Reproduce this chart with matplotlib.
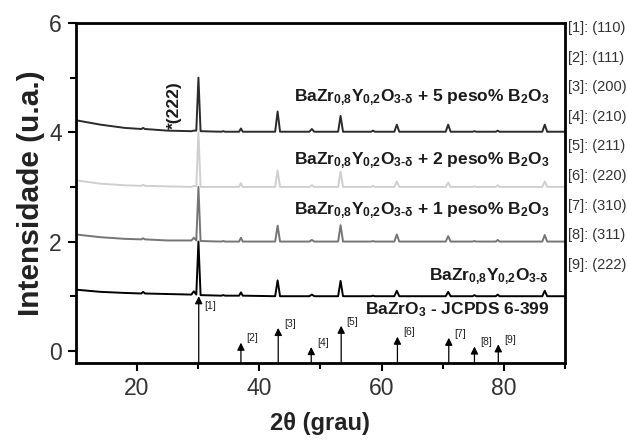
import matplotlib
matplotlib.use('Agg')
import matplotlib.pyplot as plt

plt.rcParams['font.family'] = ['Liberation Sans', 'DejaVu Sans']
plt.rcParams['mathtext.fontset'] = 'custom'
plt.rcParams['mathtext.rm'] = 'Liberation Sans:bold'
plt.rcParams['mathtext.it'] = 'Liberation Sans:bold'
plt.rcParams['mathtext.bf'] = 'Liberation Sans:bold'

# 2theta points shared by all the patterns (peak feet and tips)
two_theta = [10, 14, 18, 20.7, 21.0, 21.3, 25, 28.9, 29.3, 29.7, 30.05, 30.4,
             33.8, 34.1, 34.4, 36.7, 37.0, 37.3, 42.6, 43.0, 43.4, 48.2, 48.6, 49.0,
             52.9, 53.3, 53.7, 58.3, 58.6, 58.9, 62.1, 62.5, 62.9, 70.5, 70.9, 71.3,
             74.9, 75.2, 75.5, 78.7, 79.0, 79.3, 86.3, 86.7, 87.1, 90]

# intensities (already stacked with offsets as in the figure)
y_5pct = [4.22, 4.14, 4.08, 4.06, 4.08, 4.06, 4.03, 4.02, 4.03, 4.03, 5.0, 4.02,
          4.01, 4.02, 4.01, 4.01, 4.07, 4.01, 4.01, 4.38, 4.01, 4.01, 4.06, 4.01,
          4.01, 4.30, 4.01, 4.01, 4.03, 4.01, 4.01, 4.14, 4.01, 4.01, 4.14, 4.01,
          4.01, 4.02, 4.01, 4.01, 4.03, 4.01, 4.01, 4.14, 4.01, 4.01]
y_2pct = [3.12, 3.06, 3.03, 3.02, 3.04, 3.02, 3.01, 3.0, 3.02, 3.01, 4.0, 3.0,
          3.0, 3.0, 3.0, 3.0, 3.07, 3.0, 3.0, 3.30, 3.0, 3.0, 3.03, 3.0,
          3.0, 3.28, 3.0, 3.0, 3.02, 3.0, 3.0, 3.10, 3.0, 3.0, 3.08, 3.0,
          3.0, 3.01, 3.0, 3.0, 3.03, 3.0, 3.0, 3.10, 3.0, 3.0]
y_1pct = [2.13, 2.08, 2.05, 2.04, 2.06, 2.04, 2.02, 2.02, 2.07, 2.02, 3.0, 2.01,
          2.0, 2.01, 2.0, 2.0, 2.07, 2.0, 2.0, 2.29, 2.0, 2.0, 2.03, 2.0,
          2.0, 2.30, 2.0, 2.0, 2.01, 2.0, 2.0, 2.13, 2.0, 2.0, 2.10, 2.0,
          2.0, 2.01, 2.0, 2.0, 2.03, 2.0, 2.0, 2.12, 2.0, 2.0]
y_pure = [1.12, 1.08, 1.06, 1.05, 1.08, 1.05, 1.04, 1.03, 1.09, 1.03, 2.0, 1.02,
          1.01, 1.02, 1.01, 1.01, 1.07, 1.01, 1.0, 1.29, 1.0, 1.0, 1.03, 1.0,
          1.0, 1.28, 1.0, 1.0, 1.01, 1.0, 1.0, 1.10, 1.0, 1.0, 1.08, 1.0,
          1.0, 1.02, 1.0, 1.0, 1.03, 1.0, 1.0, 1.10, 1.0, 1.0]

# JCPDS 6-399 reference lines
ref_pos = [30.1, 37.0, 43.1, 48.5, 53.4, 62.6, 71.0, 75.2, 79.1]
ref_int = [1.0, 0.15, 0.42, 0.07, 0.46, 0.26, 0.24, 0.08, 0.12]
ref_hkl = ['(110)', '(111)', '(200)', '(210)', '(211)', '(220)', '(310)', '(311)', '(222)']

ymin = -0.22

fig = plt.figure(figsize=(6.27, 4.42), dpi=100)
ax = fig.add_axes([0.121, 0.179, 0.780, 0.769])

ax.plot(two_theta, y_pure, color='black', lw=1.4)
ax.plot(two_theta, y_1pct, color='#757575', lw=1.4)
ax.plot(two_theta, y_2pct, color='#cfcfcf', lw=1.4)
ax.plot(two_theta, y_5pct, color='#2b2b2b', lw=1.4)

for i in range(len(ref_pos)):
    ax.annotate('', xy=(ref_pos[i], ref_int[i]), xytext=(ref_pos[i], ymin),
                arrowprops=dict(arrowstyle='-|>', color='black', lw=0.9,
                                mutation_scale=11, shrinkA=0, shrinkB=0))
    dy = -7 if i == 0 else 3
    ax.annotate('[%d]' % (i + 1), xy=(ref_pos[i], ref_int[i]), xytext=(4, dy),
                textcoords='offset points', fontsize=7.5, color='#222222',
                ha='left', va='center')

# sample labels
lab_kw = dict(ha='right', va='baseline', fontsize=12.5, fontweight='bold', color='#1a1a1a')
ax.text(87.4, 4.57, r'BaZr$_{0{,}8}$Y$_{0{,}2}$O$_{3\text{-}\delta}$ + 5 peso% B$_2$O$_3$', **lab_kw)
ax.text(87.4, 3.41, r'BaZr$_{0{,}8}$Y$_{0{,}2}$O$_{3\text{-}\delta}$ + 2 peso% B$_2$O$_3$', **lab_kw)
ax.text(87.4, 2.50, r'BaZr$_{0{,}8}$Y$_{0{,}2}$O$_{3\text{-}\delta}$ + 1 peso% B$_2$O$_3$', **lab_kw)
ax.text(87.4, 1.30, r'BaZr$_{0{,}8}$Y$_{0{,}2}$O$_{3\text{-}\delta}$', **lab_kw)
ax.text(87.4, 0.66, r'BaZrO$_3$ - JCPDS 6-399', **lab_kw)
ax.text(26.2, 4.06, '*(222)', rotation=90, ha='center', va='bottom',
        fontsize=12.5, fontweight='bold', color='#1a1a1a')

# hkl legend to the right of the axes
for i in range(len(ref_hkl)):
    fig.text(0.906, 1 - (28 + 29.6 * i) / 442, '[%d]: %s' % (i + 1, ref_hkl[i]),
             fontsize=10.5, color='#333333', ha='left', va='center')

ax.set_xlim(10, 90)
ax.set_ylim(ymin, 6)
ax.set_xticks([20, 40, 60, 80])
ax.set_xticks([30, 50, 70, 90], minor=True)
ax.set_yticks([0, 2, 4, 6])
ax.set_yticks([1, 3, 5], minor=True)
ax.tick_params(which='major', direction='out', length=6, width=1.5,
               labelsize=16.5, labelcolor='#333333', pad=4)
ax.tick_params(which='minor', direction='out', length=4, width=1.5)
for s in ax.spines.values():
    s.set_linewidth(2)

ax.set_xlabel(r'2θ (grau)', fontsize=17, fontweight='bold', color='#222222', labelpad=9)
ax.set_ylabel('Intensidade (u.a.)', fontsize=21.5, fontweight='bold', color='#222222', labelpad=3)

fig.savefig('out.png', dpi=100)
